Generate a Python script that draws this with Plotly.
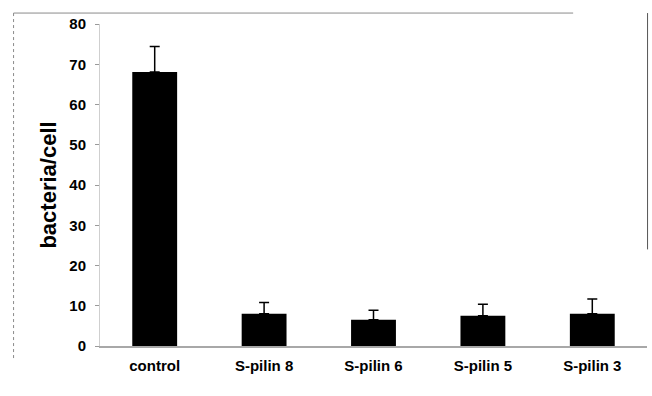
import plotly.graph_objects as go

categories = ["control", "S-pilin 8", "S-pilin 6", "S-pilin 5", "S-pilin 3"]
values = [68.1, 8.0, 6.5, 7.5, 8.0]
errors = [6.3, 2.8, 2.4, 2.9, 3.7]
y_ticks = [0, 10, 20, 30, 40, 50, 60, 70, 80]

FONT = "Liberation Sans, Arial, Helvetica, sans-serif"

fig = go.Figure(
    go.Bar(
        x=categories,
        y=values,
        marker=dict(color="black", line=dict(width=0)),
        error_y=dict(
            type="data",
            array=errors,
            arrayminus=[0] * len(errors),
            symmetric=False,
            color="black",
            thickness=1.5,
            width=5,
        ),
    )
)

# faint scan frame
frame = "#8a8a8a"
fig.add_shape(type="line", xref="paper", yref="paper", x0=-0.158, x1=0.865, y0=1.034, y1=1.034,
              line=dict(color=frame, width=1))
fig.add_shape(type="line", xref="paper", yref="paper", x0=-0.158, x1=-0.158, y0=1.034, y1=-0.043,
              line=dict(color=frame, width=1, dash="dot"))
fig.add_shape(type="line", xref="paper", yref="paper", x0=1.001, x1=1.001, y0=1.034, y1=0.30,
              line=dict(color="#555", width=1))

fig.update_layout(
    width=652,
    height=396,
    margin=dict(l=99.5, r=4.7, t=24, b=50, autoexpand=False),
    paper_bgcolor="white",
    plot_bgcolor="white",
    bargap=0.59,
    showlegend=False,
    font=dict(family=FONT, color="black"),
    xaxis=dict(
        automargin=False,
        showline=True,
        linecolor="#a8a8a8",
        linewidth=2,
        ticks="",
        showgrid=False,
        tickfont=dict(size=15, weight=700, family=FONT, color="black"),
        ticklabelstandoff=5,
    ),
    yaxis=dict(
        automargin=False,
        range=[0, 80],
        tickvals=y_ticks,
        showline=True,
        linecolor="#cfcfcf",
        linewidth=1,
        ticks="outside",
        ticklen=4,
        tickcolor="#9a9a9a",
        tickwidth=1,
        showgrid=False,
        zeroline=False,
        ticklabelstandoff=6,
        tickfont=dict(size=15, weight=700, family=FONT, color="black"),
        title=dict(text="bacteria/cell", font=dict(size=22, weight=700, family=FONT, color="black"),
                   standoff=6),
    ),
)

fig.write_html(
    "out.html",
    config={"displayModeBar": False},
    post_script="document.body.style.margin='0';document.body.style.padding='0';",
)
